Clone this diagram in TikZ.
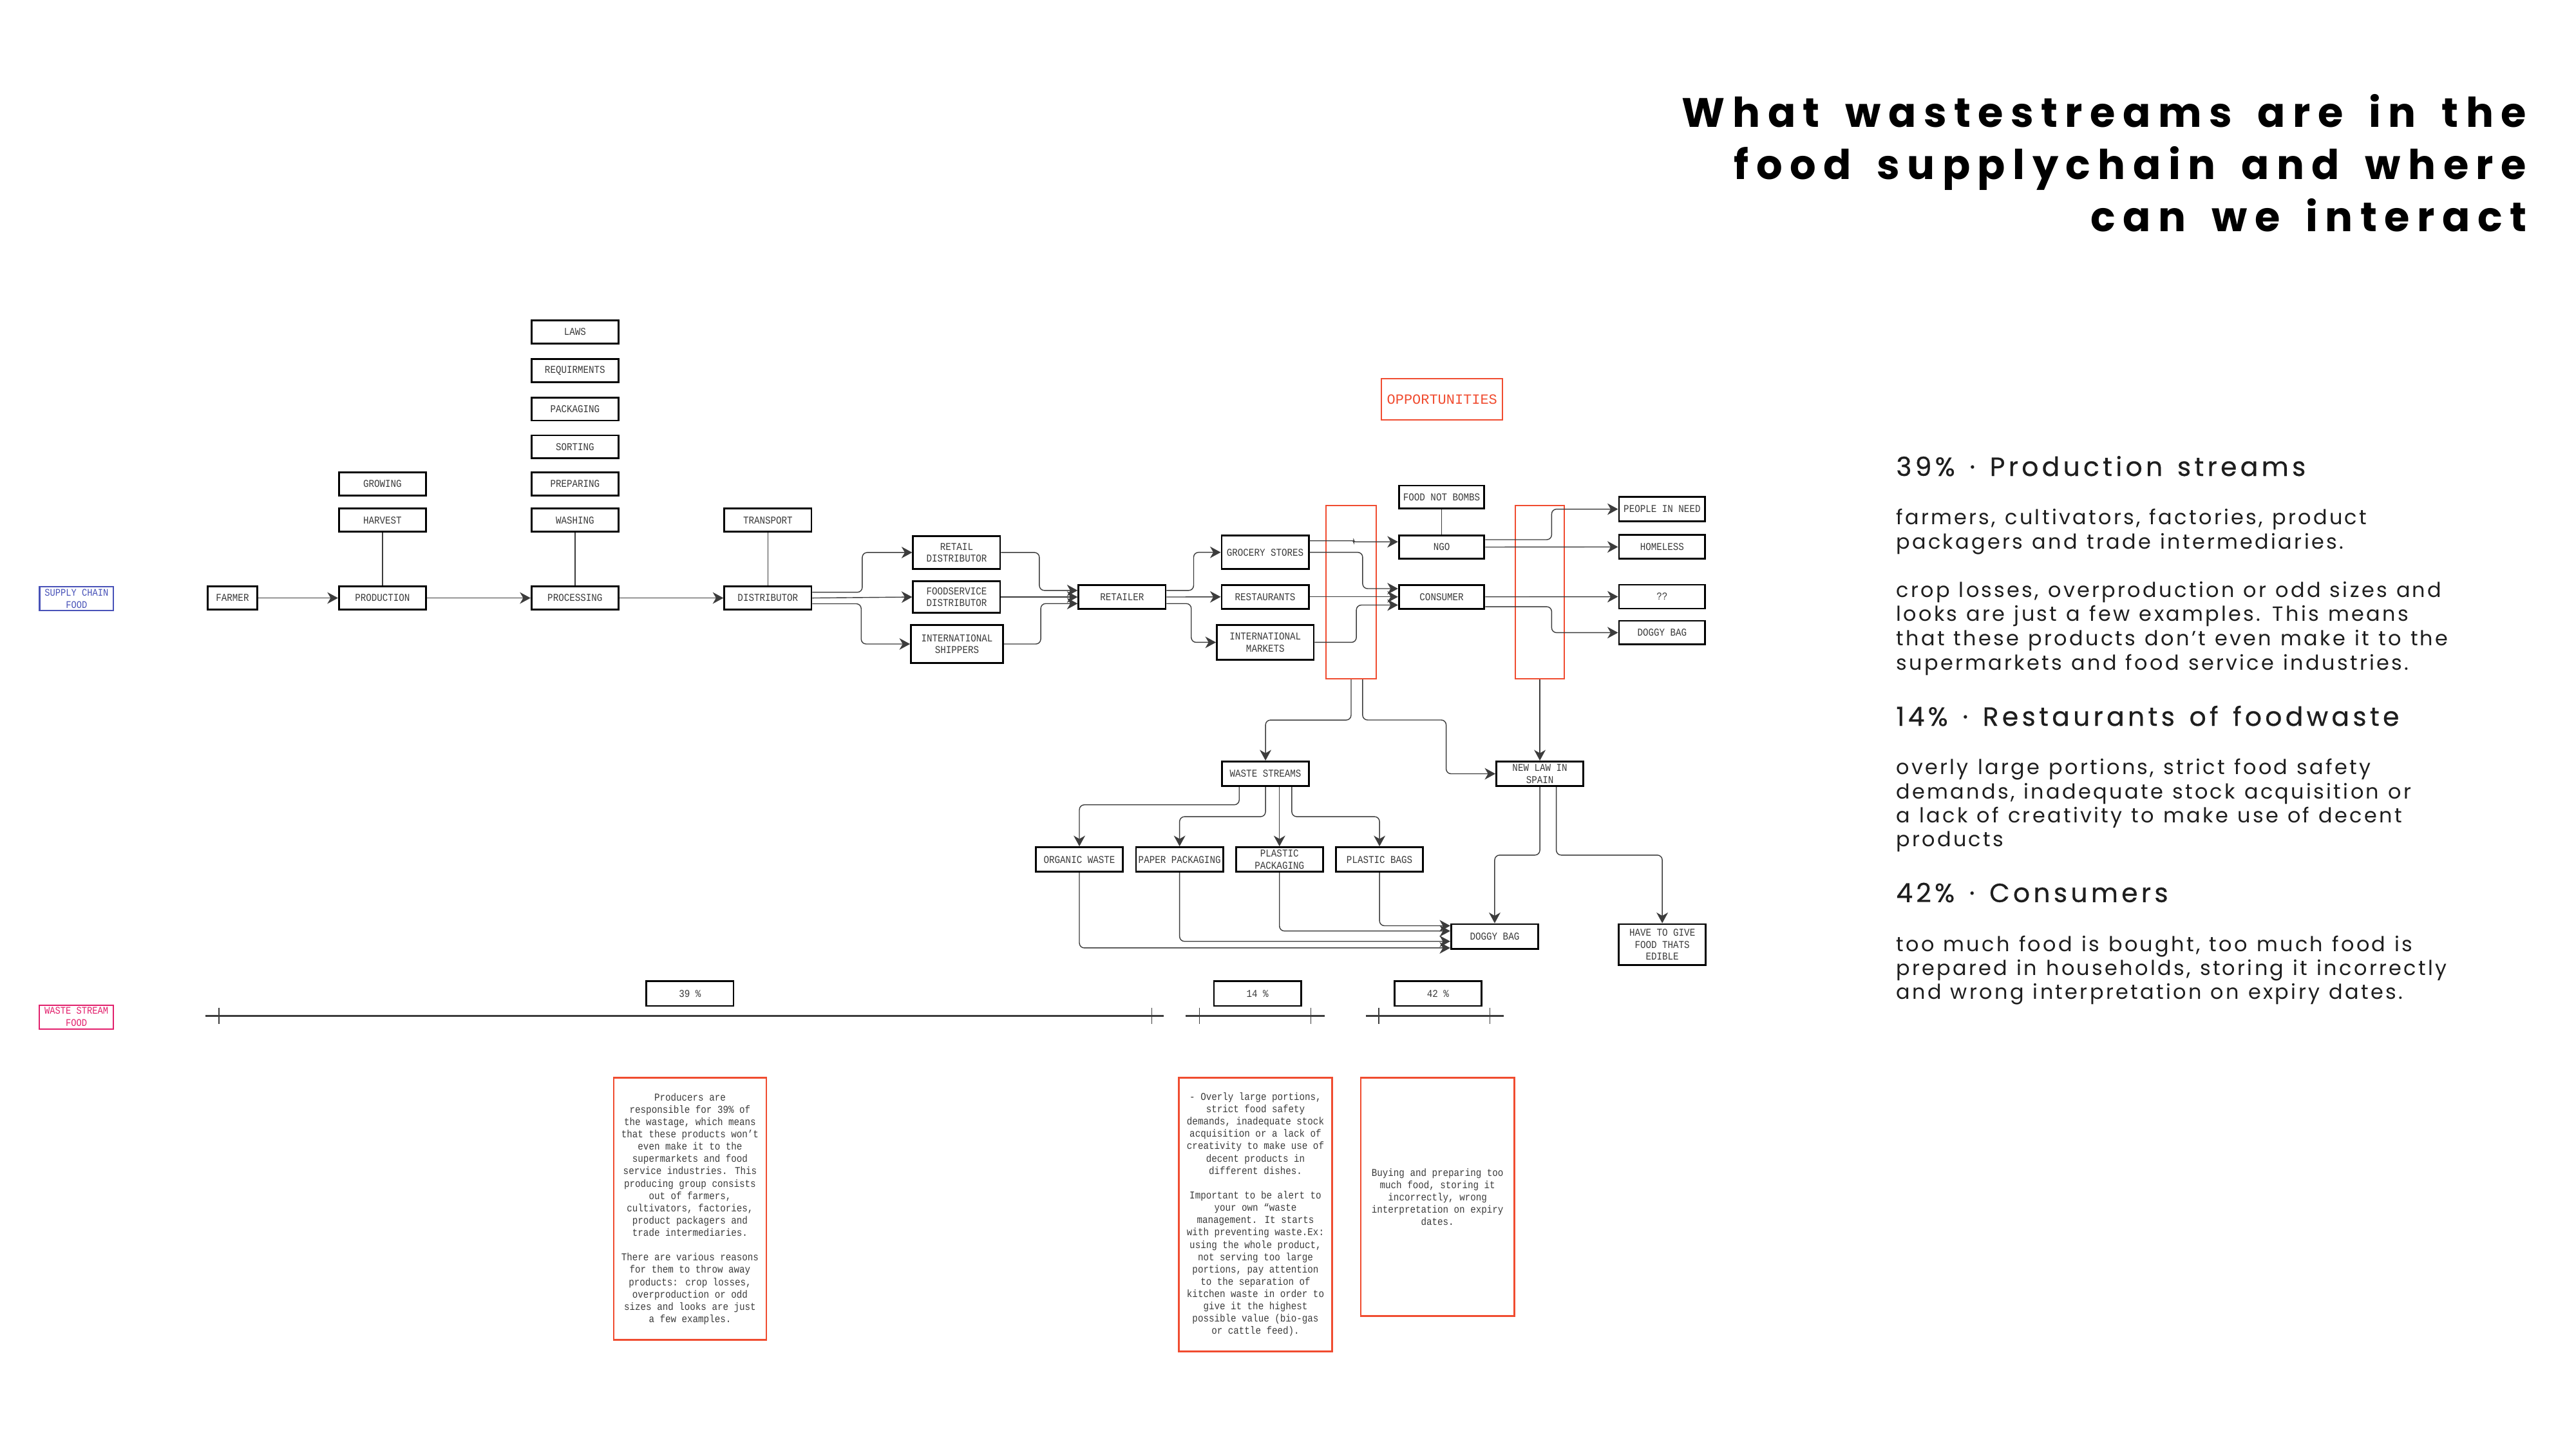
\documentclass[tikz,border=0pt]{standalone}
\usepackage{fontspec}
\usetikzlibrary{arrows.meta,calc}
\newfontfamily\condmono[FakeStretch=0.87]{Liberation Mono}
\newfontfamily\plainmono{Liberation Mono}
\newfontfamily\headfont[LetterSpace=13,WordSpace=1.4,FakeBold=0.5]{Poppins}
\newfontfamily\bodyfont[LetterSpace=10.5,WordSpace=1.2]{Poppins}
\newfontfamily\titlefont[LetterSpace=18,WordSpace=1.6]{Poppins}
\definecolor{oppred}{RGB}{240,76,48}
\definecolor{chainblue}{RGB}{72,82,184}
\definecolor{streampink}{RGB}{226,32,108}
\definecolor{labelgray}{RGB}{58,58,58}
\definecolor{linegray}{RGB}{60,60,60}
\definecolor{textdark}{RGB}{30,30,30}
\begin{document}
\begin{tikzpicture}[x=1pt,y=-1pt,
  box/.style={draw=black,line width=1.1pt,fill=white,text=labelgray,inner sep=0pt,align=center,
    minimum width=53pt,minimum height=14pt,font=\condmono\fontsize{6.4}{7.2}\selectfont},
  tagbox/.style={draw=#1,line width=0.8pt,text=#1,inner sep=0pt,align=center,
    minimum width=45pt,minimum height=14.5pt,font=\condmono\fontsize{6.2}{7.6}\selectfont},
  oppbox/.style={draw=oppred,line width=0.8pt},
  note/.style={draw=oppred,line width=1pt,text=labelgray,inner sep=0pt,align=center,
    font=\condmono\fontsize{6.4}{7.5}\selectfont},
  flow/.style={draw=linegray,line width=0.55pt,rounded corners=3pt,
    -{Stealth[length=6.5pt,width=7pt,inset=2pt]}},
  tie/.style={draw=linegray,line width=0.55pt},
  scaleline/.style={draw=linegray,line width=1pt},
  tick/.style={draw=linegray,line width=0.5pt},
  elbow/.style={to path={-| ($(\tikztostart)!#1!(\tikztotarget)$) |- (\tikztotarget) \tikztonodes}},
  elbow/.default=.5,
  velbow/.style={to path={|- ($(\tikztostart)!#1!(\tikztotarget)$) -| (\tikztotarget) \tikztonodes}},
  velbow/.default=.5,
  titleline/.style={anchor=base east,inner sep=0pt,text=black,font=\titlefont\bfseries\fontsize{25}{31}\selectfont},
  head/.style={anchor=base west,inner sep=0pt,text=textdark,font=\headfont\fontsize{16}{19}\selectfont},
  body/.style={anchor=base west,inner sep=0pt,text=textdark,font=\bodyfont\fontsize{12.5}{15}\selectfont}]
\useasboundingbox (0,0) rectangle (1568,882);

\node[titleline] (title1) at (1538,77.6) {What wastestreams are in the};
\node[titleline] (title2) at (1538,109) {food supplychain and where};
\node[titleline] (title3) at (1538,140.8) {can we interact};

\node[tagbox=chainblue] (chain) at (46.6,364.5) {SUPPLY CHAIN\\FOOD};
\node[tagbox=streampink] (wastefood) at (46.5,619) {WASTE STREAM\\FOOD};

\node[box,minimum width=30pt] (farmer) at (141.5,364) {FARMER};
\node[box] (production) at (232.8,364) {PRODUCTION};
\node[box] (growing) at (232.8,294.5) {GROWING};
\node[box] (harvest) at (232.8,316.6) {HARVEST};
\node[box] (processing) at (350,364) {PROCESSING};
\node[box] (laws) at (350,202) {LAWS};
\node[box] (requirments) at (350,225.5) {REQUIRMENTS};
\node[box] (packaging) at (350,249) {PACKAGING};
\node[box] (sorting) at (350,272) {SORTING};
\node[box] (preparing) at (350,294.5) {PREPARING};
\node[box] (washing) at (350,316.6) {WASHING};
\node[box] (transport) at (467.4,316.6) {TRANSPORT};
\node[box] (distributor) at (467.4,364) {DISTRIBUTOR};
\node[box,minimum height=20pt] (retail) at (582.3,336.3) {RETAIL\\DISTRIBUTOR};
\node[box,minimum height=19pt] (foodservice) at (582.3,363.4) {FOODSERVICE\\DISTRIBUTOR};
\node[box,minimum width=56pt,minimum height=23pt] (shippers) at (582.5,392) {INTERNATIONAL\\SHIPPERS};
\node[box,minimum height=14.5pt] (retailer) at (683,363.4) {RETAILER};
\node[box,minimum height=20.5pt] (grocery) at (770.1,336.2) {GROCERY STORES};
\node[box,minimum height=14.5pt] (restaurants) at (770.1,363.3) {RESTAURANTS};
\node[box,minimum width=59pt,minimum height=21pt] (intlmarkets) at (770.2,391) {INTERNATIONAL\\MARKETS};

\node[oppbox,text=oppred,minimum width=72.5pt,minimum height=25pt,
  font=\plainmono\fontsize{8.6}{10}\selectfont] (opportunities) at (877.8,243) {OPPORTUNITIES};
\node[box,minimum width=52pt] (foodnotbombs) at (877.5,302.6) {FOOD NOT BOMBS};
\node[box,minimum width=52pt] (ngo) at (877.5,333) {NGO};
\node[box,minimum width=52pt,minimum height=14.5pt] (consumer) at (877.5,363.3) {CONSUMER};
\node[oppbox,minimum width=30.5pt,minimum height=105.5pt] (opp1) at (822.4,360.5) {};
\node[oppbox,minimum width=30pt,minimum height=105.5pt] (opp2) at (937.3,360.5) {};

\node[box,minimum width=52.5pt,minimum height=15pt] (people) at (1011.7,309.9) {PEOPLE IN NEED};
\node[box,minimum width=52.5pt,minimum height=14.5pt] (homeless) at (1011.7,332.9) {HOMELESS};
\node[box,minimum width=52.5pt,minimum height=14.5pt] (unknown) at (1011.7,363.2) {??};
\node[box,minimum width=52.5pt,minimum height=14.5pt] (doggytop) at (1011.7,385.1) {DOGGY BAG};

\node[box,minimum height=15pt] (wastestreams) at (770.3,471) {WASTE STREAMS};
\node[box,minimum height=15pt] (newlaw) at (937.3,471) {NEW LAW IN\\SPAIN};
\node[box,minimum height=15pt] (organic) at (657,523.2) {ORGANIC WASTE};
\node[box,minimum height=15pt] (paper) at (718,523.2) {PAPER PACKAGING};
\node[box,minimum height=15pt] (plasticpack) at (778.8,523.2) {PLASTIC\\PACKAGING};
\node[box,minimum height=15pt] (plasticbags) at (839.7,523.2) {PLASTIC BAGS};
\node[box,minimum height=15pt] (doggybag) at (909.8,570) {DOGGY BAG};
\node[box,minimum height=25pt] (havetogive) at (1011.8,575) {HAVE TO GIVE\\FOOD THATS\\EDIBLE};

\node[box,minimum height=15pt] (pct39) at (420,604.8) {39 \%};
\node[box,minimum height=15pt] (pct14) at (765.4,604.8) {14 \%};
\node[box,minimum height=15pt] (pct42) at (875.3,604.8) {42 \%};

\draw[scaleline] (124.9,618.3) -- (708.4,618.3);
\draw[tick] (133.3,613.3) -- (133.3,623.3);
\draw[tick] (701,613.3) -- (701,623.3);
\draw[scaleline] (721.6,618.3) -- (806.2,618.3);
\draw[tick] (730,613.3) -- (730,623.3);
\draw[tick] (797.9,613.3) -- (797.9,623.3);
\draw[scaleline] (831.5,618.3) -- (915.4,618.3);
\draw[tick] (839.3,613.3) -- (839.3,623.3);
\draw[tick] (907,613.3) -- (907,623.3);

\node[note,minimum width=93pt,minimum height=159.5pt] (note39) at (420,735.8) {Producers are\\responsible for 39\% of\\the wastage, which means\\that these products won’t\\even make it to the\\supermarkets and food\\service industries. This\\producing group consists\\out of farmers,\\cultivators, factories,\\product packagers and\\trade intermediaries.\\[7.5pt]There are various reasons\\for them to throw away\\products: crop losses,\\overproduction or odd\\sizes and looks are just\\a few examples.};
\node[note,minimum width=93.4pt,minimum height=166.4pt] (note14) at (764.2,739.3) {- Overly large portions,\\strict food safety\\demands, inadequate stock\\acquisition or a lack of\\creativity to make use of\\decent products in\\different dishes.\\[7.5pt]Important to be alert to\\your own “waste\\management. It starts\\with preventing waste.Ex:\\using the whole product,\\not serving too large\\portions, pay attention\\to the separation of\\kitchen waste in order to\\give it the highest\\possible value (bio-gas\\or cattle feed).};
\node[note,minimum width=93.5pt,minimum height=145pt] (note42) at (875,728.6) {Buying and preparing too\\much food, storing it\\incorrectly, wrong\\interpretation on expiry\\dates.};

\draw[flow] (farmer) -- (production);
\draw[flow] (production) -- (processing);
\draw[flow] (processing) -- (distributor);
\draw[tie] (harvest) -- (production);
\draw[tie] (washing) -- (processing);
\draw[tie] (transport) -- (distributor);
\draw[tie] (foodnotbombs) -- (ngo);

\draw[flow] ([yshift=3.5pt]distributor.east) to[elbow] (retail.west);
\draw[flow] (distributor.east) -- (foodservice.west);
\draw[flow] ([yshift=-3.5pt]distributor.east) to[elbow] (shippers.west);
\draw[flow] (retail.east) to[elbow] ([yshift=4pt]retailer.west);
\draw[flow] (foodservice.east) -- (retailer.west);
\draw[flow] (shippers.east) to[elbow] ([yshift=-4pt]retailer.west);
\draw[flow] ([yshift=4pt]retailer.east) to[elbow] (grocery.west);
\draw[flow] (retailer.east) -- (restaurants.west);
\draw[flow] ([yshift=-4pt]retailer.east) to[elbow] (intlmarkets.west);

\draw[flow,rounded corners=0.9pt] ([yshift=7pt]grocery.east) to[elbow] ([yshift=3.2pt]ngo.west);
\draw[flow] (grocery.east) to[elbow=.6] ([yshift=5pt]consumer.west);
\draw[flow] (restaurants.east) -- (consumer.west);
\draw[flow] (intlmarkets.east) to[elbow] ([yshift=-5pt]consumer.west);

\draw[flow] ([yshift=4.5pt]ngo.east) to[elbow] (people.west);
\draw[flow] (ngo.east) -- (homeless.west);
\draw[flow] (consumer.east) -- (unknown.west);
\draw[flow] ([yshift=-6pt]consumer.east) to[elbow] (doggytop.west);

\draw[flow] (opp1.south) to[velbow] (wastestreams.north);
\draw[flow] ([xshift=7pt]opp1.south) -- ++(0,24.6) -| ([xshift=-30pt]newlaw.west) -- (newlaw.west);
\draw[flow] (opp2.south) -- (newlaw.north);

\draw[flow] ([xshift=-16pt]wastestreams.south) to[velbow=.3] (organic.north);
\draw[flow] (wastestreams.south) to[velbow] (paper.north);
\draw[flow] (wastestreams.south -| plasticpack.north) -- (plasticpack.north);
\draw[flow] ([xshift=16pt]wastestreams.south) to[velbow] (plasticbags.north);
\draw[flow] (newlaw.south) to[velbow] (doggybag.north);
\draw[flow] ([xshift=10pt]newlaw.south) to[velbow] (havetogive.north);

\draw[flow] (organic.south) |- ([yshift=-7pt]doggybag.west);
\draw[flow] (paper.south) |- ([yshift=-3pt]doggybag.west);
\draw[flow] (plasticpack.south) |- ([yshift=3.3pt]doggybag.west);
\draw[flow] (plasticbags.south) |- ([yshift=6.5pt]doggybag.west);

\node[head] (head39) at (1154,289.7) {39\% · Production streams};
\node[head] (head14) at (1154,441.8) {14\% · Restaurants of foodwaste};
\node[head] (head42) at (1154,549.1) {42\% · Consumers};
\foreach \y/\t [count=\i] in {
  319.4/{farmers, cultivators, factories, product},
  334.0/{packagers and trade intermediaries.},
  363.4/{crop losses, overproduction or odd sizes and},
  378.0/{looks are just a few examples. This means},
  393.0/{that these products don’t even make it to the},
  407.7/{supermarkets and food service industries.},
  471.5/{overly large portions, strict food safety},
  486.1/{demands, inadequate stock acquisition or},
  500.8/{a lack of creativity to make use of decent},
  515.4/{products},
  579.0/{too much food is bought, too much food is},
  593.5/{prepared in households, storing it incorrectly},
  608.3/{and wrong interpretation on expiry dates.}}
  \node[body] (line\i) at (1154,\y) {\t};
\end{tikzpicture}
\end{document}
